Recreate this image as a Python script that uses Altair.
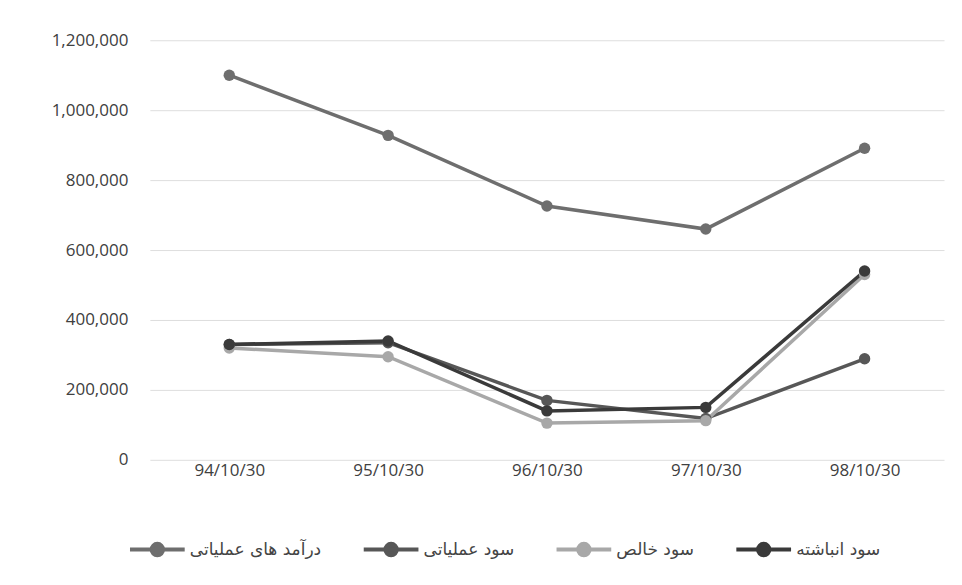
import altair as alt
import pandas as pd

dates = ["94/10/30", "95/10/30", "96/10/30", "97/10/30", "98/10/30"]
series_names = ["درآمد های عملیاتی", "سود عملیاتی", "سود خالص", "سود انباشته"]
revenue = [1100000, 928000, 726000, 660000, 891000]
op_profit = [330000, 335000, 170000, 118000, 289000]
net_profit = [320000, 295000, 105000, 112000, 530000]
accum_profit = [330000, 340000, 140000, 150000, 540000]
colors = ["#6e6e6e", "#575757", "#a8a8a8", "#3a3a3a"]

rows = []
for name, vals in zip(series_names, [revenue, op_profit, net_profit, accum_profit]):
    for d, v in zip(dates, vals):
        rows.append({"date": d, "series": name, "value": v})
df = pd.DataFrame(rows)

legend_path = "M-1,0 L1,0 M-0.21,0 A0.21,0.21 0 1 1 0.21,0 A0.21,0.21 0 1 1 -0.21,0"

color = alt.Color(
    "series:N",
    scale=alt.Scale(domain=series_names, range=colors),
    sort=series_names,
    legend=alt.Legend(
        title=None, orient="none", direction="horizontal",
        legendX=-22, legendY=480,
        symbolType=legend_path, symbolSize=3000, symbolStrokeWidth=4,
        labelFontSize=17, labelColor="#444444", labelFont="DejaVu Sans",
        columnPadding=34, labelLimit=300, labelOffset=3,
    ),
)

base = alt.Chart(df).encode(
    x=alt.X("date:N", sort=dates, title=None,
            axis=alt.Axis(labelAngle=0, labelFontSize=17, labelColor="#404040",
                          labelFont="Open Sans", ticks=False, domain=False,
                          labelPadding=3, grid=False)),
    y=alt.Y("value:Q", title=None,
            scale=alt.Scale(domain=[0, 1200000], nice=False),
            axis=alt.Axis(values=[0, 200000, 400000, 600000, 800000, 1000000, 1200000],
                          format=",.0f", labelFontSize=17, labelColor="#404040",
                          labelFont="Open Sans", ticks=False, domain=False,
                          gridColor="#dedede", gridWidth=1, labelPadding=22)),
    color=color,
)

lines = base.mark_line(strokeWidth=3.5)
points = base.mark_point(filled=True, size=130, opacity=1)

chart = (lines + points).properties(
    width=795, height=420,
    autosize=alt.AutoSizeParams(type="none"),
    padding={"left": 142, "top": 32, "right": 10, "bottom": 115},
).configure_view(stroke=None).configure_scale(bandPaddingInner=0, bandPaddingOuter=0.0)

chart = chart.configure_axisX(bandPosition=0.5)

chart.save("out.html", embed_options={"renderer": "svg", "actions": False})
